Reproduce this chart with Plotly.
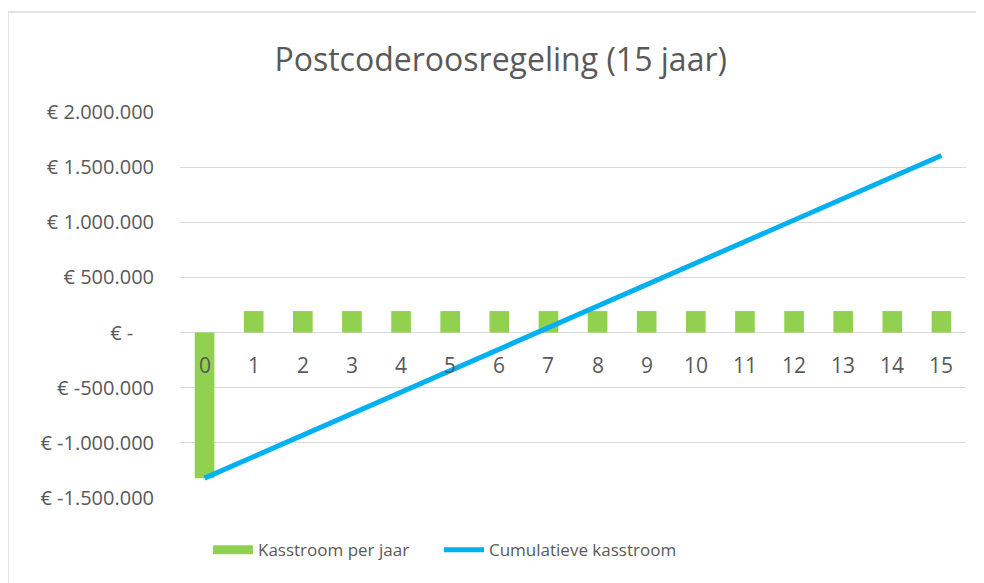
import plotly.graph_objects as go

years = list(range(16))
year_labels = [str(y) for y in years]
kasstroom = [-1320000] + [195000] * 15
cumulatief = [-1320000, -1125000, -930000, -735000, -540000, -345000, -150000,
              45000, 240000, 435000, 630000, 825000, 1020000, 1215000, 1410000, 1605000]
y_tickvals = [-1500000, -1000000, -500000, 0, 500000, 1000000, 1500000, 2000000]
y_ticktext = ["€ -1.500.000", "€ -1.000.000", "€ -500.000", "€ -    ",
              "€ 500.000", "€ 1.000.000", "€ 1.500.000", "€ 2.000.000"]

FONT = "Open Sans"
GREY = "#595959"
GREEN = "#92d050"
BLUE = "#00b0f0"

fig = go.Figure()
fig.add_trace(go.Bar(x=years, y=kasstroom, name="Kasstroom per jaar", showlegend=False,
                     marker=dict(color=GREEN, line=dict(width=0)), width=0.4))
# legend entry for the bars (wide rectangular swatch as in the original)
fig.add_trace(go.Scatter(x=[None], y=[None], name="Kasstroom per jaar", mode="lines",
                         line=dict(color=GREEN, width=9), legend="legend"))
fig.add_trace(go.Scatter(x=years, y=cumulatief, name="Cumulatieve kasstroom",
                         mode="lines", line=dict(color=BLUE, width=5), legend="legend2"))

for x, lab in zip(years, year_labels):
    fig.add_annotation(x=x, y=0, xref="x", yref="y", text=lab, showarrow=False,
                       yshift=-32, font=dict(family=FONT, size=21, color=GREY))

fig.add_shape(type="rect", xref="paper", yref="paper", x0=-0.219, x1=1.06,
              y0=-0.3, y1=1.259, line=dict(color="#d9d9d9", width=1.5),
              fillcolor="rgba(0,0,0,0)", layer="below")

legend_common = dict(orientation="h", y=-0.135, yanchor="middle", xanchor="left",
                     font=dict(family=FONT, size=17, color=GREY), itemwidth=40,
                     bgcolor="rgba(0,0,0,0)")

fig.update_layout(
    width=976, height=575,
    margin=dict(l=172, r=18, t=104, b=85),
    paper_bgcolor="white", plot_bgcolor="white",
    title=dict(text="Postcoderoosregeling (15 jaar)", x=0.408, xref="paper", xanchor="center",
               y=0.9096, yref="container", yanchor="middle",
               font=dict(family=FONT, size=32, color=GREY)),
    xaxis=dict(range=[-0.5, 15.5], showticklabels=False, showgrid=False, zeroline=False,
               showline=False, ticks=""),
    yaxis=dict(range=[-1500000, 2000000], tickvals=y_tickvals, ticktext=y_ticktext,
               showgrid=True, gridcolor="#d9d9d9", gridwidth=1, zeroline=True,
               zerolinecolor="#d9d9d9", zerolinewidth=1, showline=False, ticks="",
               ticklabelstandoff=25,
               tickfont=dict(family=FONT, size=20, color=GREY)),
    barmode="overlay",
    showlegend=True,
    legend=dict(x=0.0356, **legend_common),
    legend2=dict(x=0.3295, **legend_common),
)

fig.write_html("out.html")
